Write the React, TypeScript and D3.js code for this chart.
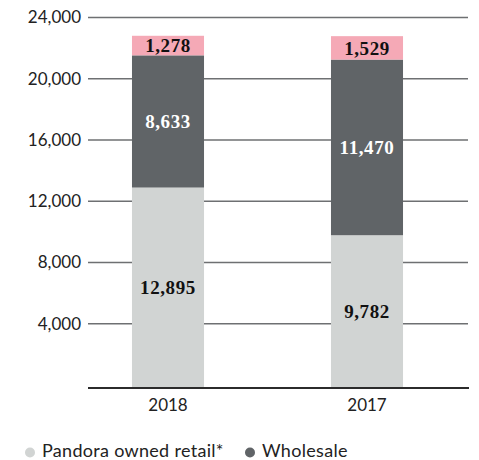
import React from "react";
import * as d3 from "d3";

const years = ["2018", "2017"];
const retail = [12895, 9782];
const wholesale = [8633, 11470];
const franchise = [1278, 1529];
const yTicks = [4000, 8000, 12000, 16000, 20000, 24000];

const seriesNames = ["Pandora owned retail*", "Wholesale", "Franchise"];
const seriesColors = ["#d1d4d3", "#606467", "#f5a9b6"];
const labelColors = ["#111", "#fff", "#111"];

const W = 479;
const H = 460;

export default function App() {
  const y = d3.scaleLinear().domain([0, 24000]).range([385, 17.5]);
  const x = d3
    .scaleBand()
    .domain(years)
    .range([68.5, 466.5])
    .paddingInner(0.638)
    .paddingOuter(0.319);

  const rows = years.map((yr, i) => ({
    year: yr,
    v0: retail[i],
    v1: wholesale[i],
    v2: franchise[i],
  }));
  const stack = d3.stack<any>().keys(["v0", "v1", "v2"])(rows);
  const fmt = d3.format(",");
  const axisY = 388;

  return (
    <svg
      width={W}
      height={H}
      style={{ position: "absolute", left: 0, top: 0, background: "#fff" }}
    >
      {yTicks.map((t) => (
        <g key={t}>
          <line x1={88} x2={468} y1={y(t)} y2={y(t)} stroke="#6e7072" strokeWidth={1.4} />
          <text
            x={81}
            y={y(t)}
            dy="0.35em"
            textAnchor="end"
            fontFamily="Lato"
            fontSize={17}
            fill="#222"
          >
            {fmt(t)}
          </text>
        </g>
      ))}

      {stack.map((layer, si) =>
        layer.map((d, i) => {
          const top = y(d[1]);
          const bot = si === 0 ? axisY : y(d[0]);
          const bx = x(years[i])!;
          return (
            <g key={`${si}-${i}`}>
              <rect
                x={bx}
                y={top}
                width={x.bandwidth()}
                height={bot - top}
                fill={seriesColors[si]}
              />
              <text
                x={bx + x.bandwidth() / 2}
                y={(top + bot) / 2}
                dy="0.35em"
                textAnchor="middle"
                fontFamily="Liberation Serif"
                fontWeight="bold"
                fontSize={19}
                letterSpacing={0.6}
                fill={labelColors[si]}
              >
                {fmt(d[1] - d[0])}
              </text>
            </g>
          );
        })
      )}

      <line x1={88} x2={469} y1={axisY} y2={axisY} stroke="#2b2b2b" strokeWidth={2} />

      {years.map((yr) => (
        <text
          key={yr}
          x={x(yr)! + x.bandwidth() / 2}
          y={411}
          textAnchor="middle"
          fontFamily="Lato"
          fontSize={17}
          fill="#222"
        >
          {yr}
        </text>
      ))}

      {[0, 1].map((i) => {
        const lx = [30, 250][i];
        return (
          <g key={i}>
            <circle cx={lx} cy={452.5} r={5} fill={seriesColors[i]} />
            <text
              x={lx + 12}
              y={457}
              fontFamily="Lato"
              fontSize={18}
              letterSpacing={0.3}
              fill="#222"
            >
              {seriesNames[i]}
            </text>
          </g>
        );
      })}
    </svg>
  );
}
